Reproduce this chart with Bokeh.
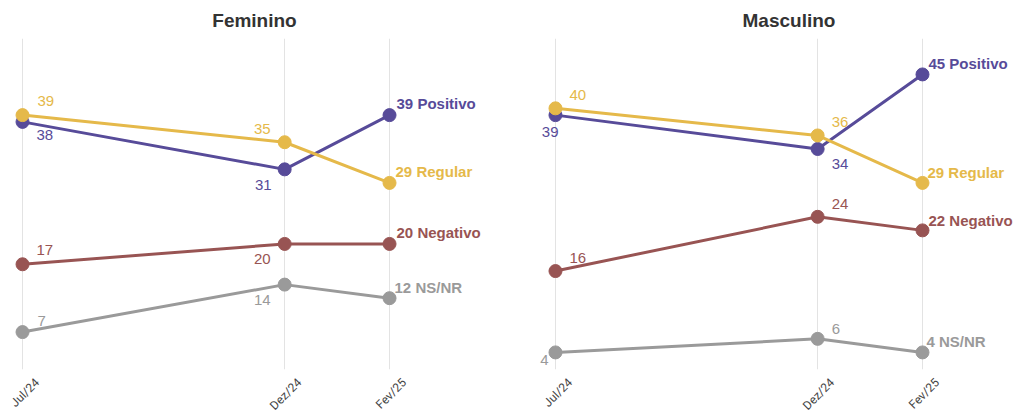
from math import pi
from bokeh.plotting import figure
from bokeh.models import ColumnDataSource, Range1d, FixedTicker, Title
from bokeh.layouts import row
from bokeh.core.properties import value
from bokeh.embed import file_html
from bokeh.resources import INLINE

# ---------------- data ----------------
periods = ["Jul/24", "Dez/24", "Fev/25"]
period_month = [0, 5, 7]          # months elapsed since Jul/24
series = ["Positivo", "Regular", "Negativo", "NS/NR"]

fem_positivo = [38, 31, 39]
fem_regular = [39, 35, 29]
fem_negativo = [17, 20, 20]
fem_nsnr = [7, 14, 12]

masc_positivo = [39, 34, 45]
masc_regular = [40, 36, 29]
masc_negativo = [16, 24, 22]
masc_nsnr = [4, 6, 4]

# ---------------- styles ----------------
colors = {"Positivo": "#574b99", "Regular": "#e5b94a",
          "Negativo": "#985453", "NS/NR": "#9a9a9a"}
draw_order = ["Positivo", "Regular", "Negativo", "NS/NR"]

# label placement (pixels from point): dx, dy, align for each period
fem_place = {
    "Positivo": ([14, -13, 7], [13, 16, -12], ["left", "right", "left"]),
    "Regular":  ([15, -14, 6], [-14, -13, -11], ["left", "right", "left"]),
    "Negativo": ([14, -14, 7], [-14, 15, -11], ["left", "right", "left"]),
    "NS/NR":    ([15, -14, 5], [-11, 15, -11], ["left", "right", "left"]),
}
masc_place = {
    "Positivo": ([3, 14, 6], [17, 15, -11], ["right", "left", "left"]),
    "Regular":  ([14, 14, 5], [-13, -13, -10], ["left", "left", "left"]),
    "Negativo": ([14, 14, 6], [-13, -13, -10], ["left", "left", "left"]),
    "NS/NR":    ([-7, 14, 4], [8, -10, -11], ["right", "left", "left"]),
}

FONT = "Liberation Sans"
LABEL_SHIFT = 0.28   # rotated tick labels sit centred under their grid line
Y_MIN, Y_MAX = 1.48, 50.3


def make_panel(title, data, place, x_start, x_end, width, title_align, title_offset):
    p = figure(width=width, height=420, output_backend="svg", toolbar_location=None,
               x_range=Range1d(x_start, x_end), y_range=Range1d(Y_MIN, Y_MAX),
               y_axis_location=None, min_border_left=0, min_border_right=0,
               min_border_top=37, min_border_bottom=45)
    p.title = Title(text=title, align=title_align, offset=title_offset,
                    text_font=FONT, text_font_size="19px", text_font_style="bold",
                    text_color="#333333", standoff=15)
    p.outline_line_color = None
    p.background_fill_color = "white"
    p.border_fill_color = "white"
    p.ygrid.grid_line_color = None
    p.xgrid.ticker = FixedTicker(ticks=period_month)
    p.xgrid.grid_line_color = "#e3e3e3"
    p.xgrid.grid_line_width = 1
    ax = p.xaxis[0]
    label_ticks = [m + LABEL_SHIFT for m in period_month]
    ax.ticker = FixedTicker(ticks=label_ticks)
    ax.major_label_overrides = {m: lab for m, lab in zip(label_ticks, periods)}
    ax.major_label_orientation = pi / 4
    ax.axis_line_color = None
    ax.major_tick_line_color = None
    ax.minor_tick_line_color = None
    ax.major_tick_out = 0
    ax.major_tick_in = 0
    ax.major_label_text_font = "Roboto"
    ax.major_label_text_font_size = "12px"
    ax.major_label_text_color = "#444444"
    ax.major_label_standoff = 11

    lx, ly, lt, ldx, ldy, lal, lcol, lsty = [], [], [], [], [], [], [], []
    for name in draw_order:
        vals = data[name]
        c = colors[name]
        p.line(period_month, vals, line_color=c, line_width=3)
        p.scatter(period_month, vals, size=13, fill_color=c, line_color=c)
        dxs, dys, aligns = place[name]
        for i, v in enumerate(vals):
            last = i == len(vals) - 1
            lx.append(period_month[i])
            ly.append(v)
            lt.append(f"{v} {name}" if last else f"{v}")
            ldx.append(dxs[i])
            ldy.append(dys[i])
            lal.append(aligns[i])
            lcol.append(c)
            lsty.append("bold" if last else "normal")
    src = ColumnDataSource(dict(x=lx, y=ly, t=lt, dx=ldx, dy=ldy, al=lal,
                                col=lcol, sty=lsty))
    p.text(x="x", y="y", text="t", x_offset="dx", y_offset="dy", text_align="al",
           text_baseline="middle", text_color="col", text_font_style="sty",
           text_font=value(FONT), text_font_size="15px", source=src)
    return p


fem = make_panel("Feminino",
                 {"Positivo": fem_positivo, "Regular": fem_regular,
                  "Negativo": fem_negativo, "NS/NR": fem_nsnr},
                 fem_place, -0.42, -0.42 + 508 / 52.43, 508, "center", 0)
masc = make_panel("Masculino",
                  {"Positivo": masc_positivo, "Regular": masc_regular,
                   "Negativo": masc_negativo, "NS/NR": masc_nsnr},
                  masc_place, -0.896, -0.896 + 506 / 52.43, 506, "left", 234)

layout = row(fem, masc, spacing=0)
open("out.html", "w").write(file_html(layout, INLINE))
